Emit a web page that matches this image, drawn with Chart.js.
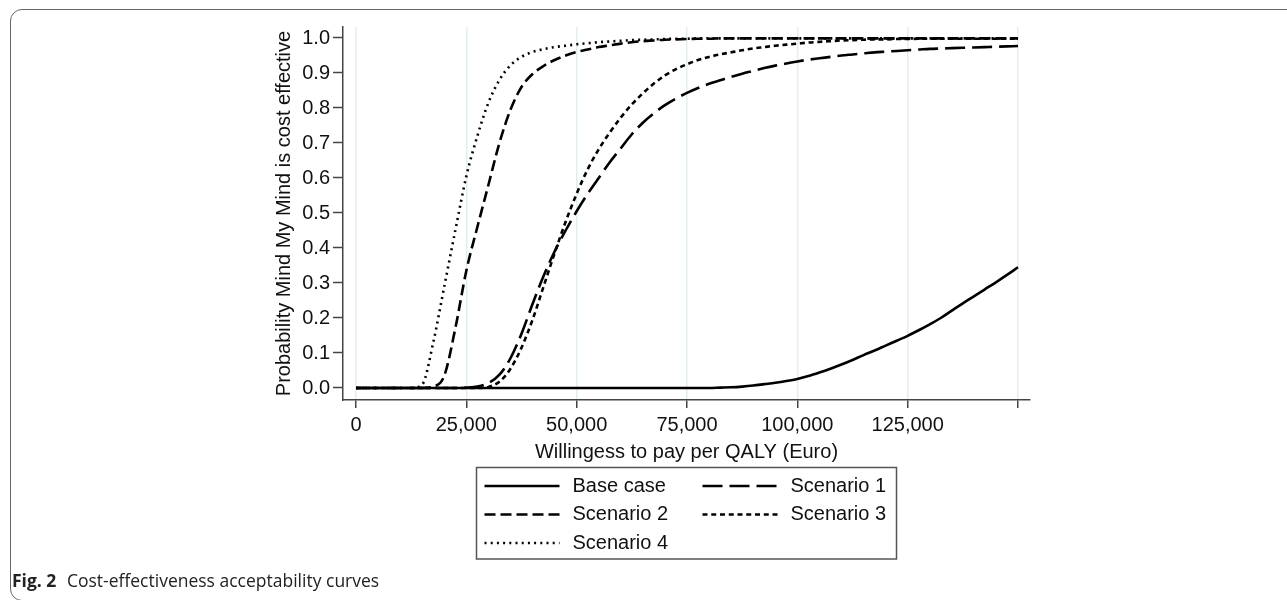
<!DOCTYPE html>
<html>
<head>
<meta charset="utf-8">
<script src="https://cdn.jsdelivr.net/npm/chart.js@4.4.1/dist/chart.umd.min.js"></script>
<style>
    html, body { margin: 0; padding: 0; background: #fff; }
    #wrap { position: absolute; left: 0; top: 0; width: 1287px; height: 600px; }
    #frame {
        position: absolute; left: 10px; top: 9px; width: 1300px; height: 592px;
        border: 1.5px solid #666; border-radius: 12px; box-sizing: border-box;
    }
    #caption {
        position: absolute; left: 12px; top: 571px; font-family: "Open Sans", sans-serif;
        font-size: 17.5px; line-height: 18px; color: #222; white-space: nowrap;
    }
    #caption b { font-weight: 700; margin-right: 6px; }
</style>
</head>
<body>
<div id="wrap"><canvas id="ceac-chart"></canvas></div>
<div id="frame"></div>
<div id="caption"><b>Fig. 2</b> Cost-effectiveness acceptability curves</div>
<script>
// willingness to pay per QALY (Euro)
const wtp = [0, 2500, 5000, 7500, 10000, 12500, 15000, 17500, 20000, 22500,
    25000, 27500, 30000, 32500, 35000, 37500, 40000, 42500, 45000, 47500,
    50000, 52500, 55000, 57500, 60000, 62500, 65000, 67500, 70000, 72500,
    75000, 77500, 80000, 82500, 85000, 87500, 90000, 92500, 95000, 97500,
    100000, 102500, 105000, 107500, 110000, 112500, 115000, 117500, 120000, 122500,
    125000, 127500, 130000, 132500, 135000, 137500, 140000, 142500, 145000, 147500,
    150000];

const baseCase = [0, 0, 0, 0, 0, 0, 0, 0, 0, 0,
    0, 0, 0, 0, 0, 0, 0, 0, 0, 0,
    0, 0, 0, 0, 0, 0, 0, 0, 0, 0,
    0, 0, 0, 0.001, 0.002, 0.004, 0.007, 0.011, 0.015, 0.02,
    0.026, 0.034, 0.044, 0.055, 0.067, 0.08, 0.094, 0.107, 0.121, 0.135,
    0.149, 0.165, 0.182, 0.2, 0.221, 0.242, 0.262, 0.282, 0.302, 0.323,
    0.345];

const scenario1 = [0, 0, 0, 0, 0, 0, 0, 0, 0, 0,
    0.001, 0.004, 0.014, 0.038, 0.085, 0.155, 0.24, 0.32, 0.39, 0.45,
    0.505, 0.555, 0.6, 0.645, 0.685, 0.725, 0.758, 0.785, 0.808, 0.827,
    0.843, 0.857, 0.869, 0.879, 0.889, 0.898, 0.906, 0.914, 0.921, 0.927,
    0.933, 0.938, 0.942, 0.946, 0.95, 0.953, 0.956, 0.959, 0.961, 0.963,
    0.965, 0.967, 0.969, 0.97, 0.971, 0.972, 0.973, 0.974, 0.975, 0.976,
    0.977];

const scenario2 = [0, 0, 0, 0, 0, 0, 0, 0.004, 0.035, 0.17,
    0.335, 0.46, 0.58, 0.7, 0.795, 0.86, 0.897, 0.92, 0.937, 0.95,
    0.96, 0.967, 0.974, 0.979, 0.984, 0.988, 0.991, 0.993, 0.995, 0.996,
    0.997, 0.998, 0.998, 0.999, 0.999, 0.999, 0.999, 0.999, 0.999, 0.999,
    0.999, 0.999, 0.999, 0.999, 0.999, 0.999, 0.999, 0.999, 0.999, 0.999,
    0.999, 0.999, 0.999, 0.999, 0.999, 0.999, 0.999, 0.999, 0.999, 0.999,
    0.999];

const scenario3 = [0, 0, 0, 0, 0, 0, 0, 0, 0, 0,
    0, 0, 0.003, 0.018, 0.055, 0.115, 0.195, 0.29, 0.385, 0.475,
    0.555, 0.625, 0.682, 0.73, 0.773, 0.81, 0.842, 0.87, 0.893, 0.911,
    0.925, 0.937, 0.946, 0.953, 0.959, 0.965, 0.97, 0.974, 0.978, 0.981,
    0.984, 0.987, 0.989, 0.991, 0.993, 0.994, 0.995, 0.996, 0.996, 0.997,
    0.997, 0.998, 0.998, 0.998, 0.998, 0.998, 0.998, 0.998, 0.998, 0.998,
    0.998];

const scenario4 = [0, 0, 0, 0, 0, 0, 0.01, 0.13, 0.29, 0.45,
    0.605, 0.72, 0.815, 0.88, 0.922, 0.946, 0.96, 0.968, 0.974, 0.978,
    0.982, 0.985, 0.988, 0.99, 0.992, 0.994, 0.995, 0.996, 0.997, 0.998,
    0.998, 0.999, 0.999, 0.999, 0.999, 0.999, 0.999, 0.999, 0.999, 0.999,
    0.999, 0.999, 0.999, 0.999, 0.999, 0.999, 0.999, 0.999, 0.999, 0.999,
    0.999, 0.999, 0.999, 0.999, 0.999, 0.999, 0.999, 0.999, 0.999, 0.999,
    0.999];

const seriesLabels = ['Base case', 'Scenario 1', 'Scenario 2', 'Scenario 3', 'Scenario 4'];
const xTicks = [0, 25000, 50000, 75000, 100000, 125000, 150000];
const yTicks = [0, 0.1, 0.2, 0.3, 0.4, 0.5, 0.6, 0.7, 0.8, 0.9, 1.0];

const FONT = '"Liberation Sans", Arial, Helvetica, sans-serif';
const dashes = [[], [20, 7], [11, 5], [5, 3.75], [2, 4.2]];

function toPoints(values) {
    return values.map((v, i) => ({ x: wtp[i], y: v }));
}

// boxed two-column legend under the x axis title
const boxedLegend = {
    id: 'boxedLegend',
    afterDraw(chart) {
        const ctx = chart.ctx;
        const area = chart.chartArea;
        const cx = (area.left + area.right) / 2;
        const left = cx - 210, top = 467.5;
        ctx.save();
        ctx.strokeStyle = '#555';
        ctx.lineWidth = 1.5;
        ctx.strokeRect(left, top, 420, 91.5);
        ctx.font = '20px ' + FONT;
        ctx.textBaseline = 'middle';
        chart.data.datasets.forEach((ds, i) => {
            const col = i % 2, row = Math.floor(i / 2);
            const x0 = left + 8 + col * 218;
            const y = top + 18.5 + row * 28.5;
            ctx.strokeStyle = ds.borderColor;
            ctx.lineWidth = ds.borderWidth;
            ctx.setLineDash(ds.borderDash);
            ctx.beginPath();
            ctx.moveTo(x0, y);
            ctx.lineTo(x0 + 75, y);
            ctx.stroke();
            ctx.setLineDash([]);
            ctx.fillStyle = '#111';
            ctx.fillText(ds.label, x0 + 88, y);
        });
        ctx.restore();
    }
};

document.addEventListener('DOMContentLoaded', function () {
    const ctx = document.getElementById('ceac-chart').getContext('2d');
    const allSeries = [baseCase, scenario1, scenario2, scenario3, scenario4];

    new Chart(ctx, {
        type: 'line',
        data: {
            datasets: allSeries.map((values, i) => ({
                label: seriesLabels[i],
                data: toPoints(values),
                borderColor: '#000',
                borderWidth: 2.6,
                borderDash: dashes[i],
                borderCapStyle: 'butt',
                pointRadius: 0,
                fill: false,
                cubicInterpolationMode: 'monotone'
            }))
        },
        options: {
            responsive: true,
            maintainAspectRatio: false,
            animation: false,
            layout: { padding: { left: 268, top: 27, right: 257, bottom: 132 } },
            plugins: {
                legend: { display: false },
                tooltip: { enabled: false }
            },
            scales: {
                x: {
                    type: 'linear',
                    min: -2946,
                    max: 152719,
                    afterBuildTicks: s => { s.ticks = xTicks.map(v => ({ value: v })); },
                    afterFit: s => { s.height = 68; },
                    ticks: {
                        autoSkip: false,
                        maxRotation: 0,
                        padding: 5,
                        color: '#111',
                        font: { family: FONT, size: 20 },
                        callback: v => (v === 150000 ? '' : v.toLocaleString('en-US'))
                    },
                    grid: {
                        color: '#e4eef1',
                        lineWidth: 1.5,
                        tickColor: '#444',
                        tickWidth: 1.5,
                        tickLength: 8
                    },
                    border: { display: true, color: '#444', width: 1.5 },
                    title: {
                        display: true,
                        text: 'Willingess to pay per QALY (Euro)',
                        color: '#111',
                        font: { family: FONT, size: 20 },
                        padding: { top: 4, bottom: 4 }
                    }
                },
                y: {
                    type: 'linear',
                    min: -0.0343,
                    max: 1.0314,
                    afterBuildTicks: s => { s.ticks = yTicks.map(v => ({ value: v })); },
                    afterFit: s => { s.width = 75; },
                    ticks: {
                        padding: 3,
                        color: '#111',
                        font: { family: FONT, size: 20 },
                        callback: v => v.toFixed(1)
                    },
                    grid: {
                        drawOnChartArea: false,
                        tickColor: '#444',
                        tickWidth: 1.5,
                        tickLength: 10
                    },
                    border: { display: true, color: '#444', width: 1.5 },
                    title: {
                        display: true,
                        text: 'Probability Mind My Mind is cost effective',
                        color: '#111',
                        font: { family: FONT, size: 20 },
                        padding: { top: 4, bottom: 4 }
                    }
                }
            }
        },
        plugins: [boxedLegend]
    });
});
</script>
</body>
</html>
